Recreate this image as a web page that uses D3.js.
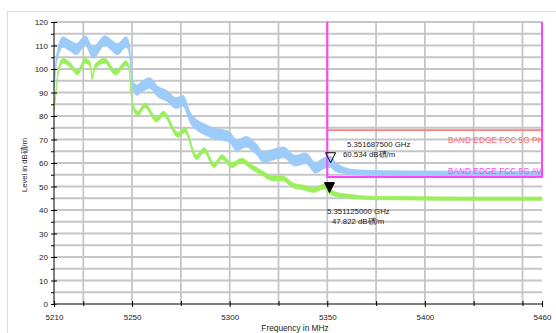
<!DOCTYPE html>
<html><head><meta charset="utf-8">
<script src="https://cdn.jsdelivr.net/npm/d3@7"></script>
<style>
html,body{margin:0;padding:0;background:#fff;}
svg{display:block;font-family:"Liberation Sans",Arial,sans-serif;}
</style></head>
<body><svg id="c" width="556" height="333"></svg>
<script>
// ---- data ----
const blueFreq   = [5210,5211,5212.5,5214.5,5218,5221.5,5226,5230,5236,5242.5,5247,5248.5,5249.5,5250.5,5252.5,5255,5259,5263,5268,5272.5,5276,5280,5283.5,5288,5292,5296,5300,5303.5,5308.5,5313.5,5317.5,5322,5327.5,5333.5,5339,5344,5348.5,5351.7,5354,5358,5365,5380,5400,5430,5460];
const blueLevel  = [93,102,108.5,111.5,110,108.5,112,107,112,108.5,111.5,109,100,93,91,92.5,94,90.5,88.5,85.5,86.5,79,76,74,72.5,72,71,67.5,69,66,62.5,63.5,64.5,61,62,58,60,60.5,58.5,57,56,55.7,55.6,55.5,55.5];
const blueSpread = [1.3,1.6,2,2.2,2.2,2.4,2.1,2.4,2.1,2.4,2.2,2.2,1.8,1.8,2.2,2.3,2.3,2.3,2.3,2.3,2.3,2.3,2.3,2.3,2.3,2.3,2.3,2.3,2.3,2.3,2.3,2.3,2.3,2.3,2.3,2.3,2.3,2.4,2.0,1.4,1.1,1,1,1,1];

const greenFreq   = [5210,5211,5212,5214.5,5218,5222,5226,5228.5,5229.5,5231,5236,5241.5,5247,5248.5,5249.5,5250.5,5253,5256.5,5262.5,5266,5273.5,5277,5283,5287,5292,5296,5301,5306,5311,5316,5322,5327,5332.5,5338,5343,5348.5,5351.1,5355,5362,5370,5390,5420,5460];
const greenLevel  = [83.5,90,98,103.5,102,98.5,103.5,102,96.5,101,103.5,98.5,102.5,100,90,84,81,84.5,78.5,81,72,74,62.5,65.5,59,62.5,59,61,58.5,56,53.5,53.5,50.5,49.5,48.5,50,48,46.5,45.8,45.2,45,44.8,44.8];
const greenSpread = [1,1,1,1,1,1,1,1,1,1,1,1,1,1,1,1,1,1,1,1,1,1,1,1,1,1,1,1,1,1,1,1,1,1,1,1,1,0.9,0.8,0.7,0.7,0.7,0.7];

const limitPK = [[5350,120],[5350,74],[5460,74],[5460,120]];
const limitAV = [[5350,120],[5350,54],[5460,54],[5460,120]];
const limitLabels = ["BAND EDGE  FCC 5G PK","BAND EDGE  FCC 5G AV"];

const markers = [
  {freq:5351.6875, level:60.534, fLabel:"5.351687500 GHz", lLabel:"60.534 dB磧/m", filled:false},
  {freq:5351.125,  level:47.822, fLabel:"5.351125000 GHz", lLabel:"47.822 dB磧/m", filled:true}
];

const xLabelTicks = [5210,5250,5300,5350,5400,5460];
const xGridTicks  = [5225,5250,5275,5300,5325,5350,5375,5400,5425,5450];
const xMinorTicks = [5225,5275,5325,5375,5425,5450,5460];
const yLabelTicks = [0,10,20,30,40,50,60,70,80,90,100,110,120];
const yMinorTicks = [5,15,25,35,45,55,65,75,85,95,105,115];

// ---- drawing ----
const svg = d3.select("#c");
const x = d3.scaleLinear().domain([5210,5460]).range([54,542]);
const y = d3.scaleLinear().domain([0,120]).range([304,22]);

// outer panel frame
svg.append("rect").attr("x",7.5).attr("y",11.5).attr("width",620).attr("height",400)
  .attr("fill","none").attr("stroke","#dddddd").attr("stroke-width",1);

// grid
const grid = svg.append("g");
d3.range(5,121,5).forEach(v=>{
  grid.append("line").attr("x1",x(5210)).attr("x2",x(5460)).attr("y1",y(v)).attr("y2",y(v))
    .attr("stroke","#c6c6c6").attr("stroke-width",1.8);
});
xGridTicks.forEach(v=>{
  grid.append("line").attr("x1",x(v)).attr("x2",x(v)).attr("y1",y(0)).attr("y2",y(120))
    .attr("stroke","#c6c6c6").attr("stroke-width",1.8);
});

const defs = svg.append("defs");
defs.append("clipPath").attr("id","plotclip").append("rect")
  .attr("x",x(5210)).attr("y",y(120)).attr("width",x(5460)-x(5210)+1).attr("height",y(0)-y(120));

const plot = svg.append("g").attr("clip-path","url(#plotclip)");

function band(freqs, levels, spreads, color){
  const pts = freqs.map((f,i)=>({f, v:levels[i], s:spreads[i]}));
  const area = d3.area().x(d=>x(d.f)).y0(d=>y(d.v-d.s)).y1(d=>y(d.v+d.s)).curve(d3.curveMonotoneX);
  plot.append("path").attr("d",area(pts)).attr("fill",color).attr("stroke",color).attr("stroke-width",0.8);
}
band(blueFreq, blueLevel, blueSpread, "#9ccbf7");
band(greenFreq, greenLevel, greenSpread, "#9bee5c");

// limit lines
const lineGen = d3.line().x(d=>x(d[0])).y(d=>y(d[1]));
plot.append("path").attr("d",lineGen(limitPK)).attr("fill","none").attr("stroke","#ff8080").attr("stroke-width",1.6);
plot.append("path").attr("d",lineGen(limitAV)).attr("fill","none").attr("stroke","#ff44ff").attr("stroke-width",2);

// limit labels (clipped at right edge)
defs.append("clipPath").attr("id","lblclip").append("rect")
  .attr("x",x(5350)).attr("y",y(120)).attr("width",x(5460)-x(5350)).attr("height",y(0)-y(120));
const lblG = svg.append("g").attr("clip-path","url(#lblclip)").style("font-size","8.3px");
lblG.append("text").attr("x",448).attr("y",y(74)+12.5).attr("fill","#ff6a6a").text(limitLabels[0]);
lblG.append("text").attr("x",448).attr("y",y(54)-3).attr("fill","#f050f0").text(limitLabels[1]);

// axes
const yAxis = d3.axisLeft(y).tickValues(yLabelTicks).tickSize(3).tickPadding(3).tickFormat(d3.format("d"));
const gy = svg.append("g").attr("transform",`translate(${x(5210)},0)`).call(yAxis);
gy.selectAll(".tick line").attr("x2",-3).attr("x1",3);
const yMinor = d3.axisLeft(y).tickValues(yMinorTicks).tickSize(3).tickFormat("");
const gym = svg.append("g").attr("transform",`translate(${x(5210)},0)`).call(yMinor);
gym.select(".domain").remove();
gy.select(".domain").attr("stroke","#000").attr("d",`M0,${y(120)}V${y(0)}`);
gy.selectAll("text").style("font-size","8px").attr("fill","#222");

const xAxis = d3.axisBottom(x).tickValues(xLabelTicks).tickSize(3).tickPadding(7).tickFormat(d3.format("d"));
const gx = svg.append("g").attr("transform",`translate(0,${y(0)})`).call(xAxis);
gx.select(".domain").attr("stroke","#555").attr("stroke-width",1.6).attr("d",`M${x(5210)},0H${x(5460)}`);
gx.selectAll(".tick line").attr("y1",-3).attr("y2",3);
gx.selectAll("text").style("font-size","8px").attr("fill","#222");
const xMinor = d3.axisBottom(x).tickValues(xMinorTicks).tickSize(3).tickFormat("");
const gxm = svg.append("g").attr("transform",`translate(0,${y(0)})`).call(xMinor);
gxm.select(".domain").remove();
gxm.selectAll(".tick line").attr("y1",-3).attr("y2",2);

// axis titles
svg.append("text").attr("transform","translate(27,165) rotate(-90)").attr("text-anchor","middle")
  .style("font-size","7.6px").attr("fill","#222").text("Level in dB磧/m");
svg.append("text").attr("x",295).attr("y",330.5).attr("text-anchor","middle")
  .style("font-size","8.3px").attr("fill","#222").text("Frequency in MHz");

// markers
const mk = svg.append("g");
markers.forEach((m,i)=>{
  const px = x(m.freq), py = y(m.level);
  mk.append("path").attr("d",`M${px},${py+1}L${px-5},${py-9}L${px+5},${py-9}Z`)
    .attr("fill", m.filled ? "#000" : "none").attr("stroke","#000").attr("stroke-width",1);
});
const mt = svg.append("g").style("font-size","7.8px").attr("fill","#222");
mt.append("text").attr("x",347).attr("y",147).text(markers[0].fLabel);
mt.append("text").attr("x",343).attr("y",156.5).text(markers[0].lLabel);
mt.append("text").attr("x",327).attr("y",214).text(markers[1].fLabel);
mt.append("text").attr("x",332).attr("y",224).text(markers[1].lLabel);
</script></body></html>
